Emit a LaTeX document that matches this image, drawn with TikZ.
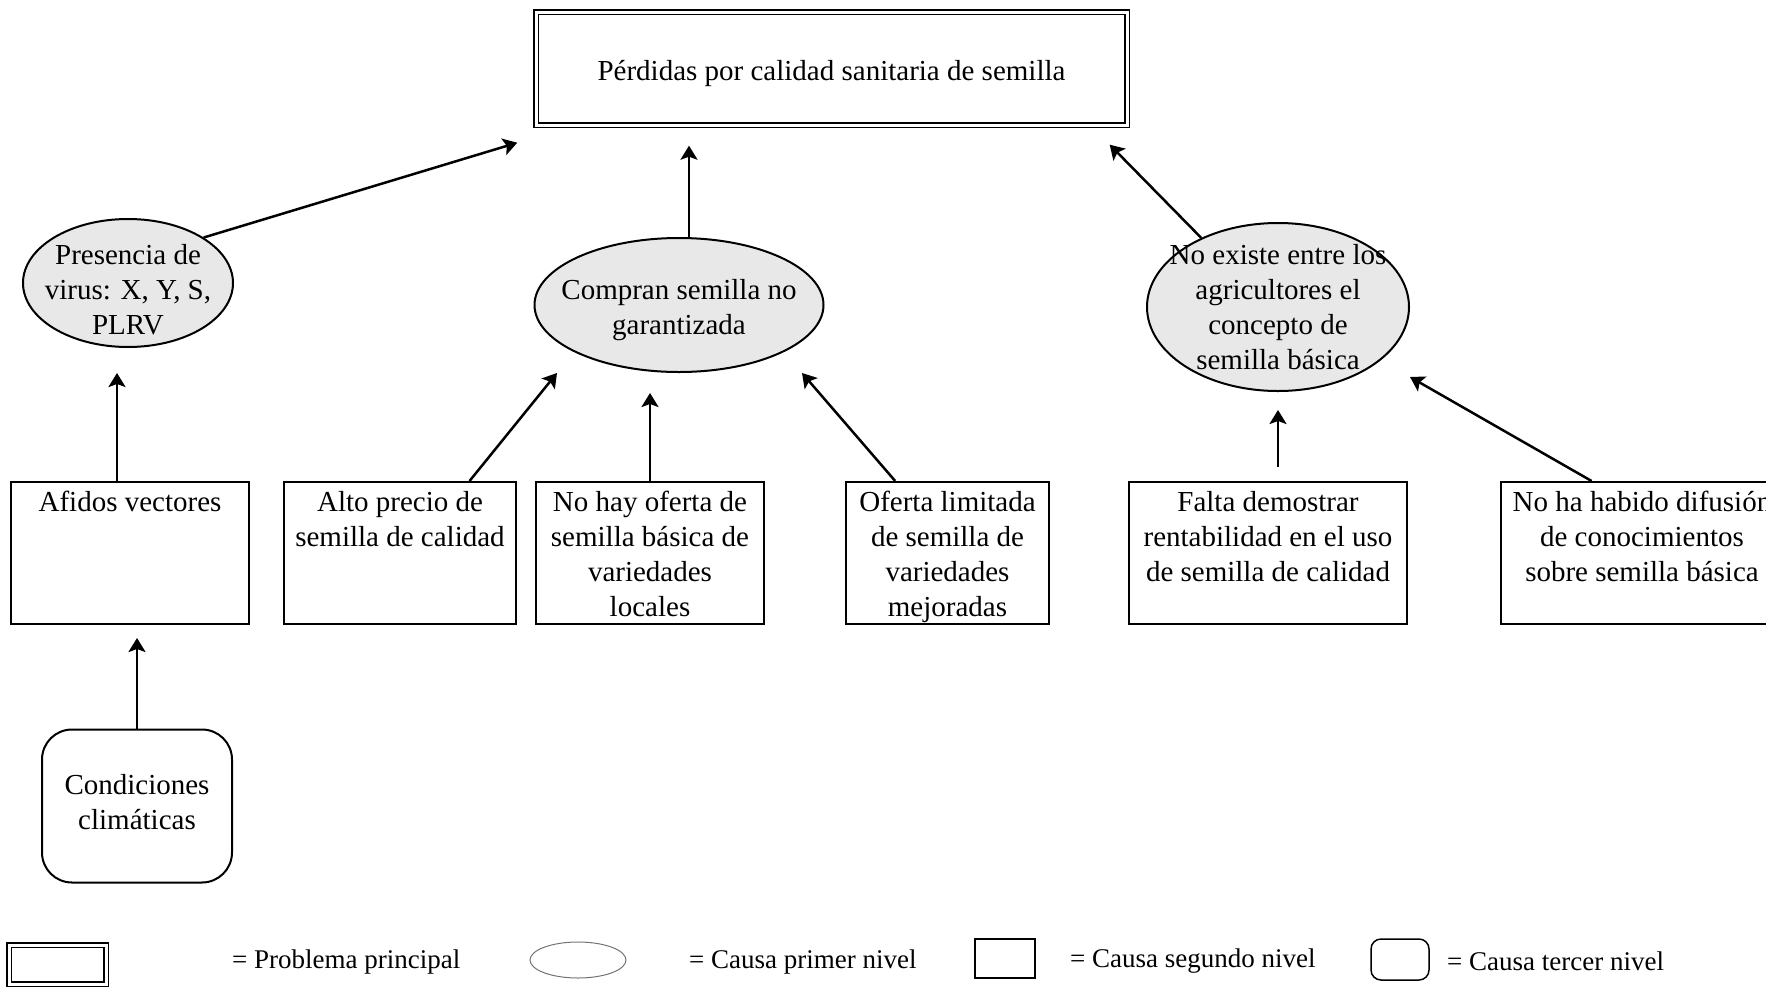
\documentclass[tikz,border=0pt]{standalone}
\usepackage{fontspec}
\setmainfont{Liberation Serif}
\usetikzlibrary{positioning,arrows.meta,shapes.geometric}

\begin{document}
\begin{tikzpicture}[
  x=1pt, y=-1pt,
  txt/.style={align=center, font=\fontsize{29}{35}\selectfont},
  mainprob/.style={draw, double, line width=1.4pt, double distance=3pt},
  causeone/.style 2 args={ellipse, draw, line width=2pt, fill=black!9, inner sep=0pt,
    label={[txt, anchor=center, yshift=#1]center:{#2}}},
  causetwo/.style={draw, line width=2pt, inner sep=0pt, minimum height=142pt,
    label={[txt, anchor=north, inner sep=10pt]north:{#1}}},
  causethree/.style={draw, line width=2pt, rounded corners=30pt,
    label={[txt, anchor=center, yshift=3.5pt]center:{#1}}},
  legtxt/.style={anchor=west, inner sep=0pt, font=\fontsize{27}{32}\selectfont},
  arr/.style={-{Stealth[length=14pt, width=17pt, inset=3pt]}, line width=2.5pt},
]
\useasboundingbox (0,0) rectangle (1766,988);
\clip (0,0) rectangle (1766,988);

% problema principal
\node[mainprob, txt, text height=31pt, minimum width=591pt, minimum height=113pt] (title) at (831.5,68.5) {P\'erdidas por calidad sanitaria de semilla};

% causas primer nivel
\node[causeone={-7pt}{Presencia de\\virus: X, Y, S,\\PLRV}, minimum width=210pt, minimum height=128pt] (virus) at (128,283) {};
\node[causeone={-5pt}{Compran semilla no\\garantizada}, minimum width=289pt, minimum height=134pt] (compran) at (679,305) {};
\node[causeone={0pt}{No existe entre los\\agricultores el\\concepto de\\semilla b\'asica}, minimum width=262pt, minimum height=168pt] (concepto) at (1278,307) {};

% causas segundo nivel
\node[causetwo={Afidos vectores}, minimum width=238pt] (afidos) at (130,553) {};
\node[causetwo={Alto precio de\\semilla de calidad}, minimum width=232pt, right=33pt of afidos] (precio) {};
\node[causetwo={No hay oferta de\\semilla b\'asica de\\variedades\\locales}, minimum width=228pt, right=18pt of precio] (oferta) {};
\node[causetwo={Oferta limitada\\de semilla de\\variedades\\mejoradas}, minimum width=203pt, right=80pt of oferta] (mejoradas) {};
\node[causetwo={Falta demostrar\\rentabilidad en el uso\\de semilla de calidad}, minimum width=278pt, right=78pt of mejoradas] (rentab) {};
\node[causetwo={No ha habido difusi\'on\\de conocimientos\\sobre semilla b\'asica}, minimum width=282pt, right=92pt of rentab] (difusion) {};

% causa tercer nivel
\node[causethree={Condiciones\\clim\'aticas}, minimum width=190pt, minimum height=153pt] (clima) at (137,806) {};

% flechas
\draw[arr] (virus.31.5) -- ([xshift=-18pt, yshift=-17pt]title.south west);
\coordinate (compranTop) at ([xshift=10pt]compran.north);
\draw[arr, shorten >=20pt] (compranTop) -- (compranTop |- title.south);
\draw[arr] (concepto.138) -- ([xshift=-18pt, yshift=-19pt]title.south east);
\coordinate (afidosTop) at ([xshift=-13pt]afidos.north);
\draw[arr, shorten >=25pt] (afidosTop) -- (afidosTop |- virus.south);
\draw[arr] (precio.46.7) -- ([xshift=-122pt]compran.south);
\draw[arr, shorten >=20pt] (oferta.north) -- (oferta.north |- compran.south);
\draw[arr] (mejoradas.126.5) -- ([xshift=123pt]compran.south);
\draw[arr, shorten <=14pt, shorten >=18pt] (rentab.north -| concepto.south) -- (concepto.south);
\draw[arr] (difusion.125.2) -- ([xshift=132pt, yshift=15pt]concepto.south);
\draw[arr, shorten >=13pt] (clima.north) -- (clima.north |- afidos.south);

% leyenda
\node[mainprob, minimum width=97pt, minimum height=39pt] (keyMain) at (57.5,964.5) {};
\node[legtxt] (keyMainT) at (232,961.5) {= Problema principal};
\node[ellipse, draw=black!55, line width=1pt, inner sep=0pt, minimum width=96pt, minimum height=36pt] (keyOne) at (578,960) {};
\node[legtxt] (keyOneT) at (689,961.5) {= Causa primer nivel};
\node[draw, line width=1.5pt, minimum width=60pt, minimum height=39pt] (keyTwo) at (1005,958.5) {};
\node[legtxt] (keyTwoT) at (1070,961.5) {= Causa segundo nivel};
\node[draw, line width=1.5pt, rounded corners=10pt, minimum width=58pt, minimum height=41pt] (keyThree) at (1400,959.5) {};
\node[legtxt] (keyThreeT) at (1447,961.5) {= Causa tercer nivel};
\end{tikzpicture}
\end{document}
